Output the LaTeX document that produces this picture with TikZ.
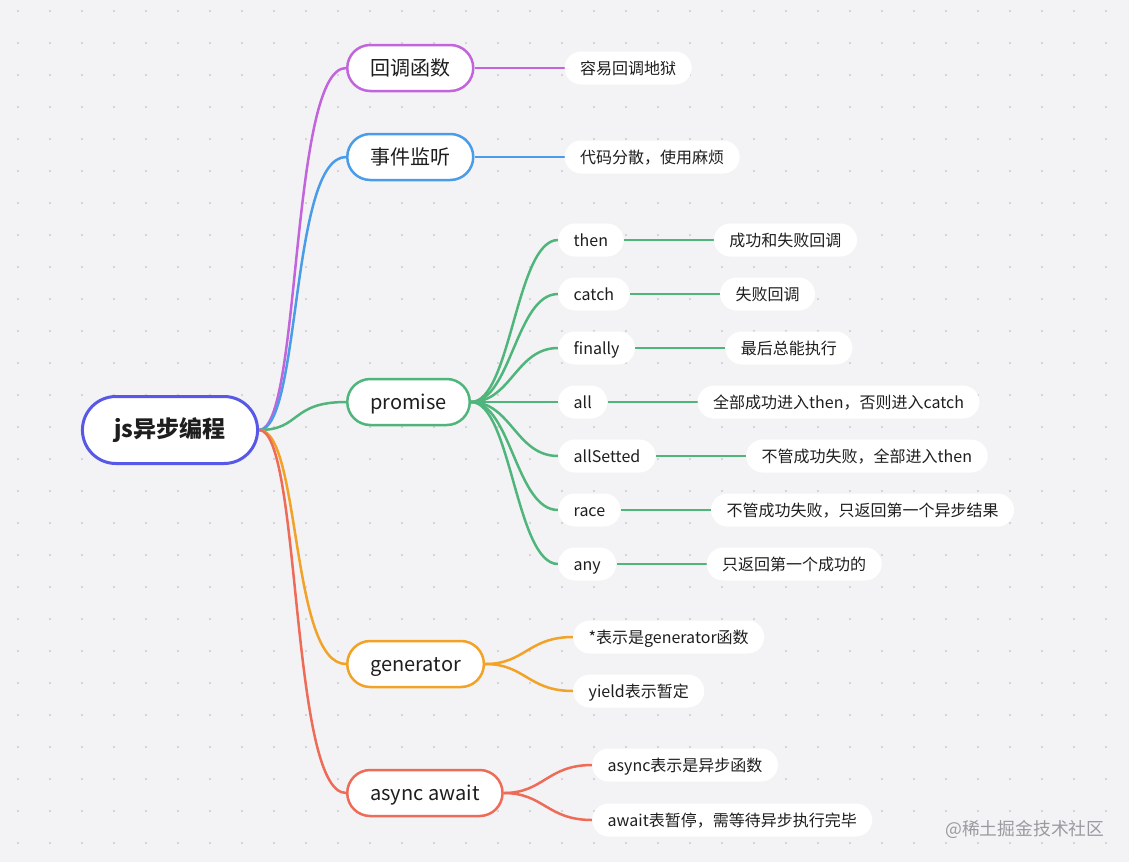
\documentclass[tikz,border=0pt]{standalone}
\usepackage{fontspec}
\setmainfont{Noto Sans CJK SC}
\usepackage{xcolor}
\usepackage{tikz}
\usetikzlibrary{positioning,backgrounds}
\definecolor{mapbg}{HTML}{F3F3F5}
\definecolor{mapdot}{HTML}{C9C9CF}
\definecolor{maptext}{HTML}{1E1E1E}
\definecolor{markgrey}{HTML}{9A9AA0}
\definecolor{rootblue}{HTML}{5858E8}
\definecolor{cbpurple}{HTML}{C264DC}
\definecolor{evblue}{HTML}{4A9CE8}
\definecolor{prgreen}{HTML}{4FB57B}
\definecolor{genorange}{HTML}{F1A227}
\definecolor{asyncred}{HTML}{EE6B57}

\tikzset{
  rootnode/.style={draw=rootblue,line width=3pt,fill=white,rounded corners=33.5pt,
    minimum height=67pt,inner xsep=32pt,text=maptext,
    font=\fontsize{23}{28}\selectfont\bfseries},
  topic/.style={draw=#1,line width=2.5pt,fill=white,rounded corners=23pt,
    minimum height=46pt,inner xsep=23pt,anchor=west,text=maptext,
    text height=17.6pt,text depth=2.4pt,font=\fontsize{20}{24}\selectfont},
  leaf/.style={fill=white,rounded corners=16.5pt,minimum height=33pt,
    inner xsep=15.5pt,anchor=west,text=maptext,
    text height=14pt,text depth=2pt,font=\fontsize{16}{19}\selectfont},
  branch/.style={draw=#1,line width=2.5pt}
}

\begin{document}
\begin{tikzpicture}[x=1pt,y=-1pt]
  \useasboundingbox (0,0) rectangle (1129,862);

  % Root and main topics
  \node[rootnode] (root) at (170,430) {js异步编程};
  \node[topic=cbpurple] (cb) at (346,68) {回调函数};
  \node[topic=evblue] (ev) at (346,157) {事件监听};
  \node[topic=prgreen] (promise) at (346,402) {promise};
  \node[topic=genorange] (gen) at (346,664) {generator};
  \node[topic=asyncred] (async) at (346,793) {async await};

  % Callback and events
  \node[leaf] (cbhell) [right=90pt of cb] {容易回调地狱};
  \node[leaf] (evmess) [right=90pt of ev] {代码分散，使用麻烦};

  % Promise methods
  \node[leaf] (pthen) at (558,240) {then};
  \node[leaf] (pcatch) at (558,294) {catch};
  \node[leaf] (pfinally) at (558,348) {finally};
  \node[leaf] (pall) at (558,402) {all};
  \node[leaf] (psettled) at (558,456) {allSetted};
  \node[leaf] (prace) at (558,510) {race};
  \node[leaf] (pany) at (558,564) {any};

  \node[leaf] (pthenres) [right=90pt of pthen] {成功和失败回调};
  \node[leaf] (pcatchres) [right=90pt of pcatch] {失败回调};
  \node[leaf] (pfinallyres) [right=90pt of pfinally] {最后总能执行};
  \node[leaf] (pallres) [right=90pt of pall] {全部成功进入then，否则进入catch};
  \node[leaf] (psettledres) [right=90pt of psettled] {不管成功失败，全部进入then};
  \node[leaf] (praceres) [right=90pt of prace] {不管成功失败，只返回第一个异步结果};
  \node[leaf] (panyres) [right=90pt of pany] {只返回第一个成功的};

  % Generator
  \node[leaf] (genstar) at (573,637) {*表示是generator函数};
  \node[leaf] (genyield) at (573,691) {yield表示暂定};

  % Async await
  \node[leaf] (asyncfn) at (592,765) {async表示是异步函数};
  \node[leaf] (asyncwait) at (592,820) {await表暂停，需等待异步执行完毕};

  % Watermark
  \node[anchor=west,inner sep=0pt,text=markgrey,font=\fontsize{17.8}{21}\selectfont]
    (mark) at (945,829) {@稀土掘金技术社区};

  \begin{scope}[on background layer]
    % Canvas with dot grid
    \fill[mapbg] (0,0) rectangle (1129,862);
    \foreach \i in {0,...,34}
      \foreach \j in {0,...,26}
        \fill[mapdot] (18+32*\i,11+32*\j) circle (1.1pt);

    % Root branches
    \draw[branch=cbpurple] (root.east) .. controls +(42,0) and +(-56,0) .. (cb.west);
    \draw[branch=evblue] (root.east) .. controls +(42,0) and +(-56,0) .. (ev.west);
    \draw[branch=prgreen] (root.east) .. controls +(42,0) and +(-56,0) .. (promise.west);
    \draw[branch=genorange] (root.east) .. controls +(42,0) and +(-56,0) .. (gen.west);
    \draw[branch=asyncred] (root.east) .. controls +(42,0) and +(-56,0) .. (async.west);

    \draw[branch=cbpurple] (cb.east) -- (cbhell.west);
    \draw[branch=evblue] (ev.east) -- (evmess.west);

    % Promise fan
    \draw[branch=prgreen] (promise.east) .. controls +(40,0) and +(-42,0) .. (pthen.west);
    \draw[branch=prgreen] (promise.east) .. controls +(40,0) and +(-42,0) .. (pcatch.west);
    \draw[branch=prgreen] (promise.east) .. controls +(40,0) and +(-42,0) .. (pfinally.west);
    \draw[branch=prgreen] (promise.east) -- (pall.west);
    \draw[branch=prgreen] (promise.east) .. controls +(40,0) and +(-42,0) .. (psettled.west);
    \draw[branch=prgreen] (promise.east) .. controls +(40,0) and +(-42,0) .. (prace.west);
    \draw[branch=prgreen] (promise.east) .. controls +(40,0) and +(-42,0) .. (pany.west);

    \draw[branch=prgreen] (pthen.east) -- (pthenres.west);
    \draw[branch=prgreen] (pcatch.east) -- (pcatchres.west);
    \draw[branch=prgreen] (pfinally.east) -- (pfinallyres.west);
    \draw[branch=prgreen] (pall.east) -- (pallres.west);
    \draw[branch=prgreen] (psettled.east) -- (psettledres.west);
    \draw[branch=prgreen] (prace.east) -- (praceres.west);
    \draw[branch=prgreen] (pany.east) -- (panyres.west);

    % Generator and async branches
    \draw[branch=genorange] (gen.east) .. controls +(40,0) and +(-45,0) .. (genstar.west);
    \draw[branch=genorange] (gen.east) .. controls +(40,0) and +(-45,0) .. (genyield.west);
    \draw[branch=asyncred] (async.east) .. controls +(40,0) and +(-45,0) .. (asyncfn.west);
    \draw[branch=asyncred] (async.east) .. controls +(40,0) and +(-45,0) .. (asyncwait.west);
  \end{scope}
\end{tikzpicture}
\end{document}
